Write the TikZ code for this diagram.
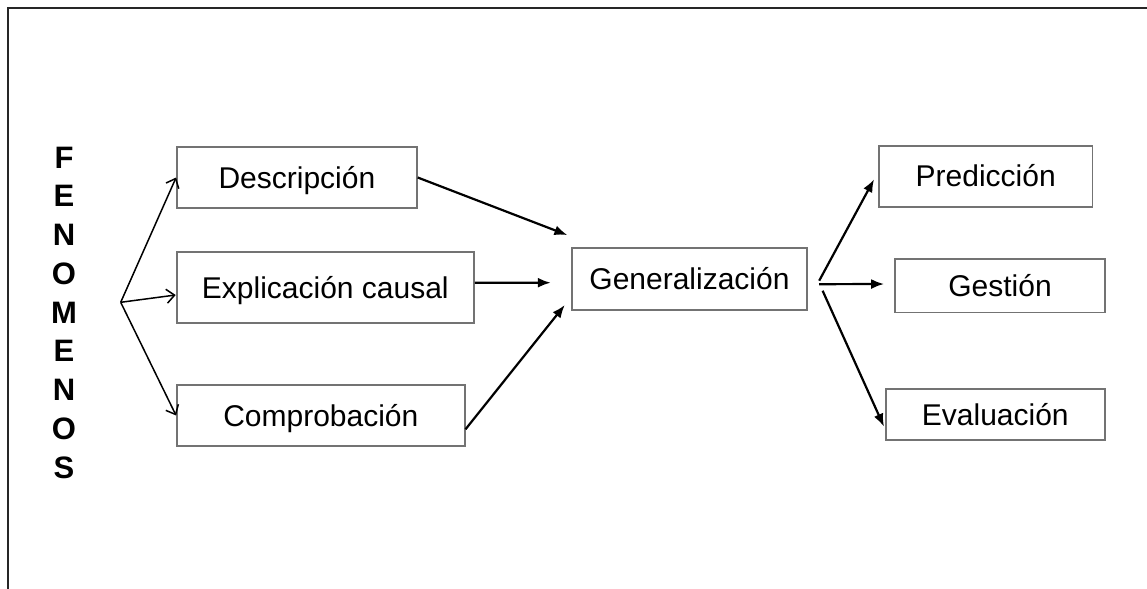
\documentclass[tikz,border=0pt]{standalone}
\usepackage{fontspec}
\setmainfont{Liberation Sans}
\usetikzlibrary{arrows.meta,calc}

\begin{document}
\begin{tikzpicture}
[x=0.5pt, y=-0.5pt,
 box/.style={draw=black!55, line width=0.9pt, inner sep=0pt, text height=10.7pt, text depth=0pt,
   font=\fontsize{15}{18}\selectfont},
 letra/.style={inner sep=0pt, text height=11pt, text depth=0pt, font=\fontsize{15.5}{18}\selectfont\bfseries},
 arr/.style={-{Latex[length=6.5pt,width=5pt]}, line width=1.1pt},
 open/.style={-{Straight Barb[length=4pt,width=7pt]}, line width=0.75pt}]
\useasboundingbox (0,0) rectangle (1147,589);
\draw[black!85, line width=1pt] (7.7,589) -- (7.7,8.3) -- (1147,8.3);

% FENOMENOS
\foreach \l [count=\i] in {F,E,N,O,M,E,N,O,S}
  \node[letra] (l\i) at (64,{157+(\i-1)*38.75}) {\l};
\coordinate (fen) at (120.7,302.3);

\node[box, minimum width=119.9pt, minimum height=30.8pt] (desc) at (296.9,177.5) {Descripción};
\node[box, minimum width=148.7pt, minimum height=35.8pt] (expl) at (325.3,287.5) {Explicación causal};
\node[box, minimum width=143.8pt, minimum height=30.8pt] (comp) at (320.8,415.5) {Comprobación};
\node[box, minimum width=117.8pt, minimum height=30.9pt] (gen) at (689.5,279.2) {Generalización};
\node[box, minimum width=106.7pt, minimum height=30.5pt] (pred) at (985.7,176.2) {Predicción};
\node[box, minimum width=105pt, minimum height=26.7pt] (gest) at (1000,285.7) {Gestión};
\node[box, minimum width=109.7pt, minimum height=25.4pt] (eval) at (995.3,414.7) {Evaluación};

\draw[open] (fen) -- (desc.west);
\draw[open] (fen) -- ($(expl.west)+(0,7.5)$);
\draw[open] (fen) -- (comp.west);

\draw[arr] (desc.east) -- ($(gen.north west)+(-3.4,-12.3)$);
\draw[arr] ($(expl.east)+(0,-4.8)$) -- ($(gen.west)+(-20,3.5)$);
\draw[arr] ($(comp.east)+(0,13.8)$) -- ($(gen.south west)+(-6,-6)$);

\draw[arr] ($(gen.east)+(11,1.5)$) -- ($(pred.west)+(-4,3)$);
\draw[arr] ($(gen.east)+(11,5)$) -- ($(gest.west)+(-10,-1.7)$);
\draw[arr] ($(gen.east)+(14.4,11.5)$) -- ($(eval.west)+(-0.7,12)$);
\end{tikzpicture}
\end{document}
